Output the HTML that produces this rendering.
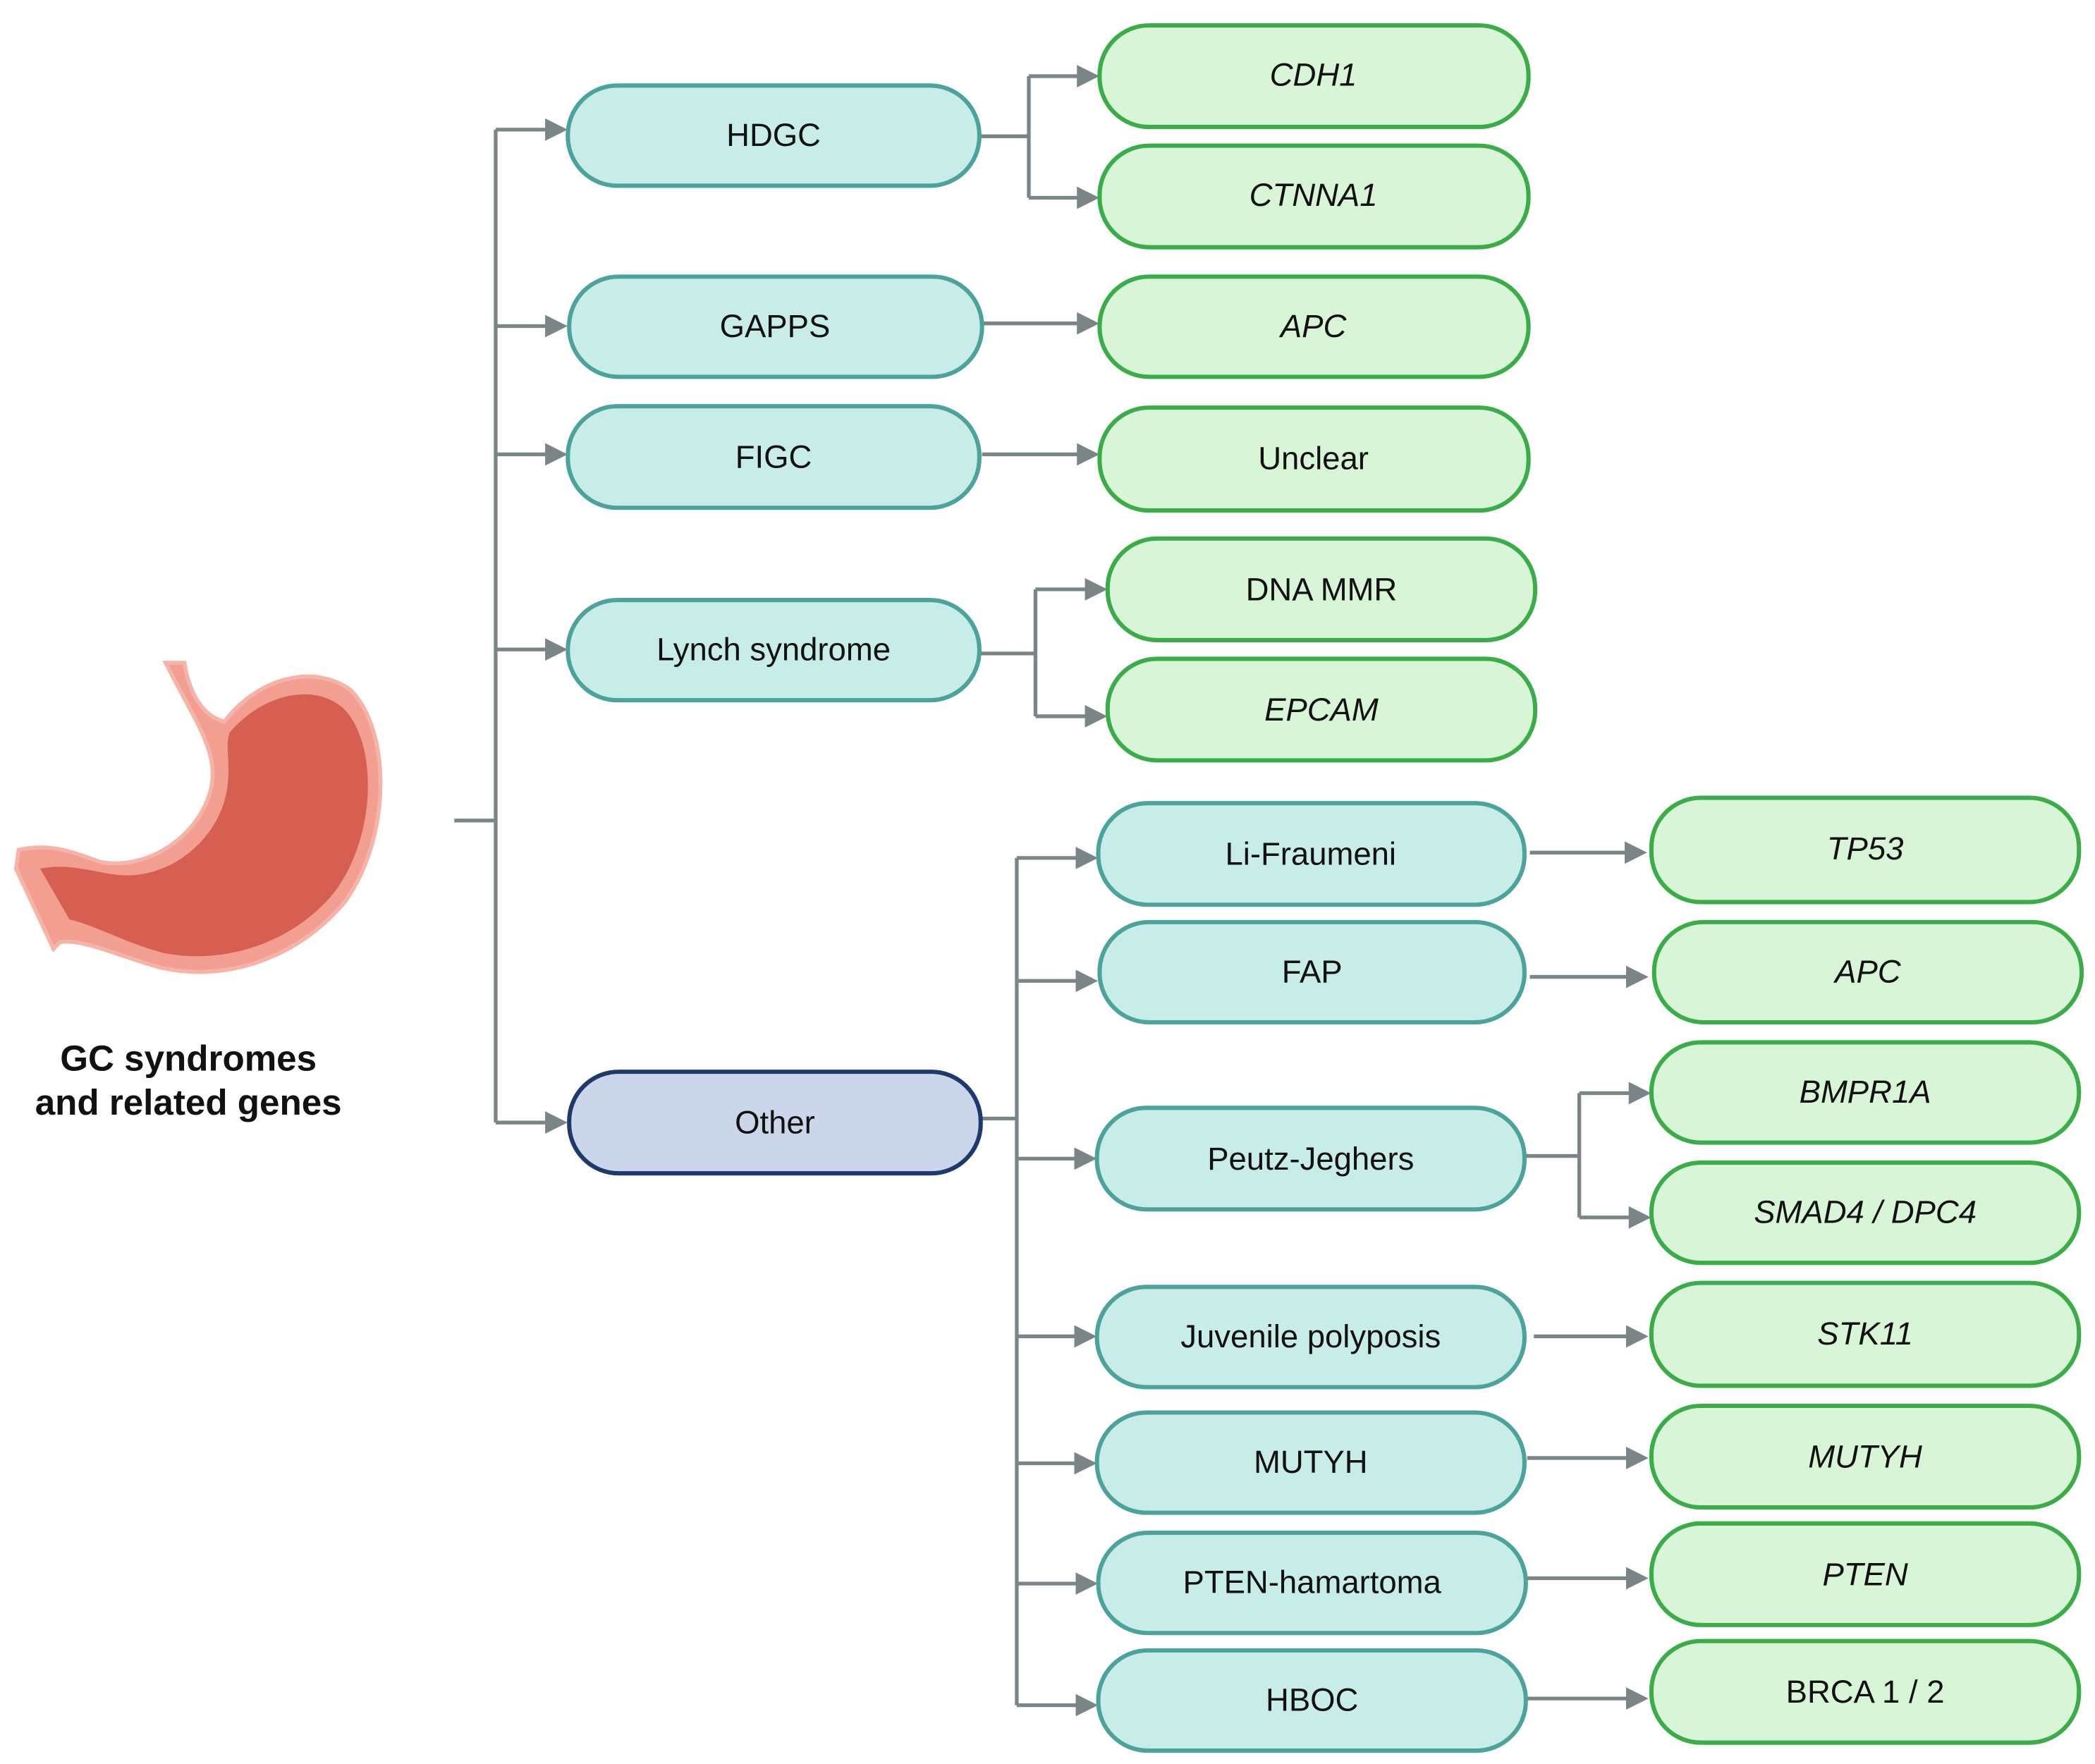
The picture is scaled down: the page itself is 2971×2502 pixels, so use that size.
<!DOCTYPE html>
<html><head><meta charset="utf-8"><style>
html,body{margin:0;padding:0;background:#fff;}
svg{display:block;}
text{font-family:"Liberation Sans",sans-serif;font-size:24px;fill:#111;text-anchor:middle;dominant-baseline:central;}
.i{font-style:italic;}
.t{fill:#c8ece8;stroke:#4ba39c;stroke-width:3.2;}
.g{fill:#d9f5d8;stroke:#3aad48;stroke-width:3.2;}
.o{fill:#ccd6ea;stroke:#1f3a6a;stroke-width:3.2;}
.c{fill:none;stroke:#7b8487;stroke-width:2.8;}
</style></head><body>
<svg width="2971" height="2502" viewBox="0 0 1568 1320" preserveAspectRatio="none" xmlns="http://www.w3.org/2000/svg">
<defs><marker id="a" markerWidth="6" markerHeight="6" refX="5" refY="3" orient="auto" markerUnits="strokeWidth"><path d="M0,0 L6,3 L0,6 Z" fill="#7b8487"/></marker></defs>

<!-- stomach -->
<path d="M124,496 L138,496 C142,520 152,536 168,540 C192,508 234,496 262,516 C292,545 294,625 258,675 C222,718 168,735 120,724 C90,716 62,702 45,705 L40,710 L12,650 L14,636 C40,630 60,640 75,645 C112,652 150,624 158,590 C164,562 146,540 124,496 Z" fill="#f29f92" stroke="#f6b3a8" stroke-width="3"/>
<path d="M172,548 C196,520 234,510 257,530 C283,556 282,626 250,668 C218,707 166,722 122,713 C95,706 70,692 52,688 L30,650 C55,645 75,655 95,655 C132,655 165,625 170,590 C173,570 168,558 172,548 Z" fill="#d65f52"/>
<text x="141" y="792" style="font-weight:bold;font-size:27px">GC syndromes</text>
<text x="141" y="825" style="font-weight:bold;font-size:27px">and related genes</text>

<!-- connectors -->
<path class="c" d="M340,614 H371 M371,97 V840"/>
<path class="c" marker-end="url(#a)" d="M371,97 H422"/>
<path class="c" marker-end="url(#a)" d="M371,244 H422"/>
<path class="c" marker-end="url(#a)" d="M371,340 H422"/>
<path class="c" marker-end="url(#a)" d="M371,486 H422"/>
<path class="c" marker-end="url(#a)" d="M371,840 H422"/>

<path class="c" d="M733,102 H770 M770,57 V148"/>
<path class="c" marker-end="url(#a)" d="M770,57 H820"/>
<path class="c" marker-end="url(#a)" d="M770,148 H820"/>
<path class="c" marker-end="url(#a)" d="M735,242 H820"/>
<path class="c" marker-end="url(#a)" d="M735,340 H820"/>
<path class="c" d="M733,489 H775 M775,441 V536"/>
<path class="c" marker-end="url(#a)" d="M775,441 H826"/>
<path class="c" marker-end="url(#a)" d="M775,536 H826"/>

<path class="c" d="M734,837 H761 M761,642 V1276"/>
<path class="c" marker-end="url(#a)" d="M761,642 H819"/>
<path class="c" marker-end="url(#a)" d="M761,734 H819"/>
<path class="c" marker-end="url(#a)" d="M761,867 H818"/>
<path class="c" marker-end="url(#a)" d="M761,1000 H818"/>
<path class="c" marker-end="url(#a)" d="M761,1095 H818"/>
<path class="c" marker-end="url(#a)" d="M761,1185 H819"/>
<path class="c" marker-end="url(#a)" d="M761,1276 H819"/>

<path class="c" marker-end="url(#a)" d="M1145,638 H1230"/>
<path class="c" marker-end="url(#a)" d="M1145,731 H1231"/>
<path class="c" d="M1141,865 H1182 M1182,818 V911"/>
<path class="c" marker-end="url(#a)" d="M1182,818 H1233"/>
<path class="c" marker-end="url(#a)" d="M1182,911 H1233"/>
<path class="c" marker-end="url(#a)" d="M1148,1000 H1231"/>
<path class="c" marker-end="url(#a)" d="M1143,1091 H1231"/>
<path class="c" marker-end="url(#a)" d="M1143,1181 H1231"/>
<path class="c" marker-end="url(#a)" d="M1143,1271 H1231"/>

<!-- syndrome boxes -->
<rect class="t" x="425" y="64" width="308" height="75" rx="37"/><text x="579" y="101">HDGC</text>
<rect class="t" x="426" y="207" width="309" height="75" rx="37"/><text x="580" y="244">GAPPS</text>
<rect class="t" x="425" y="304" width="308" height="76" rx="37"/><text x="579" y="342">FIGC</text>
<rect class="t" x="425" y="449" width="308" height="75" rx="37"/><text x="579" y="486">Lynch syndrome</text>
<rect class="o" x="426" y="802" width="308" height="76" rx="37"/><text x="580" y="840">Other</text>

<rect class="g" x="823" y="19" width="321" height="76" rx="37"/><text class="i" x="983" y="56">CDH1</text>
<rect class="g" x="823" y="109" width="321" height="76" rx="37"/><text class="i" x="983" y="146">CTNNA1</text>
<rect class="g" x="823" y="207" width="321" height="75" rx="37"/><text class="i" x="983" y="244">APC</text>
<rect class="g" x="823" y="305" width="321" height="77" rx="37"/><text x="983" y="343">Unclear</text>
<rect class="g" x="829" y="403" width="320" height="76" rx="37"/><text x="989" y="441">DNA MMR</text>
<rect class="g" x="829" y="493" width="320" height="76" rx="37"/><text class="i" x="989" y="531">EPCAM</text>

<rect class="t" x="822" y="601" width="319" height="76" rx="37"/><text x="981" y="639">Li-Fraumeni</text>
<rect class="t" x="823" y="690" width="318" height="75" rx="37"/><text x="982" y="727">FAP</text>
<rect class="t" x="821" y="829" width="320" height="76" rx="37"/><text x="981" y="867">Peutz-Jeghers</text>
<rect class="t" x="821" y="963" width="320" height="75" rx="37"/><text x="981" y="1000">Juvenile polyposis</text>
<rect class="t" x="821" y="1057" width="320" height="75" rx="37"/><text x="981" y="1094">MUTYH</text>
<rect class="t" x="822" y="1147" width="320" height="75" rx="37"/><text x="982" y="1184">PTEN-hamartoma</text>
<rect class="t" x="822" y="1235" width="320" height="75" rx="37"/><text x="982" y="1272">HBOC</text>

<rect class="g" x="1236" y="597" width="320" height="78" rx="37"/><text class="i" x="1396" y="635">TP53</text>
<rect class="g" x="1238" y="690" width="320" height="75" rx="37"/><text class="i" x="1398" y="727">APC</text>
<rect class="g" x="1236" y="780" width="320" height="75" rx="37"/><text class="i" x="1396" y="817">BMPR1A</text>
<rect class="g" x="1236" y="870" width="320" height="75" rx="37"/><text class="i" x="1396" y="907">SMAD4 / DPC4</text>
<rect class="g" x="1236" y="960" width="320" height="77" rx="37"/><text class="i" x="1396" y="998">STK11</text>
<rect class="g" x="1236" y="1052" width="320" height="76" rx="37"/><text class="i" x="1396" y="1090">MUTYH</text>
<rect class="g" x="1236" y="1140" width="320" height="76" rx="37"/><text class="i" x="1396" y="1178">PTEN</text>
<rect class="g" x="1236" y="1228" width="320" height="76" rx="37"/><text x="1396" y="1266">BRCA 1 / 2</text>
</svg>
</body></html>
